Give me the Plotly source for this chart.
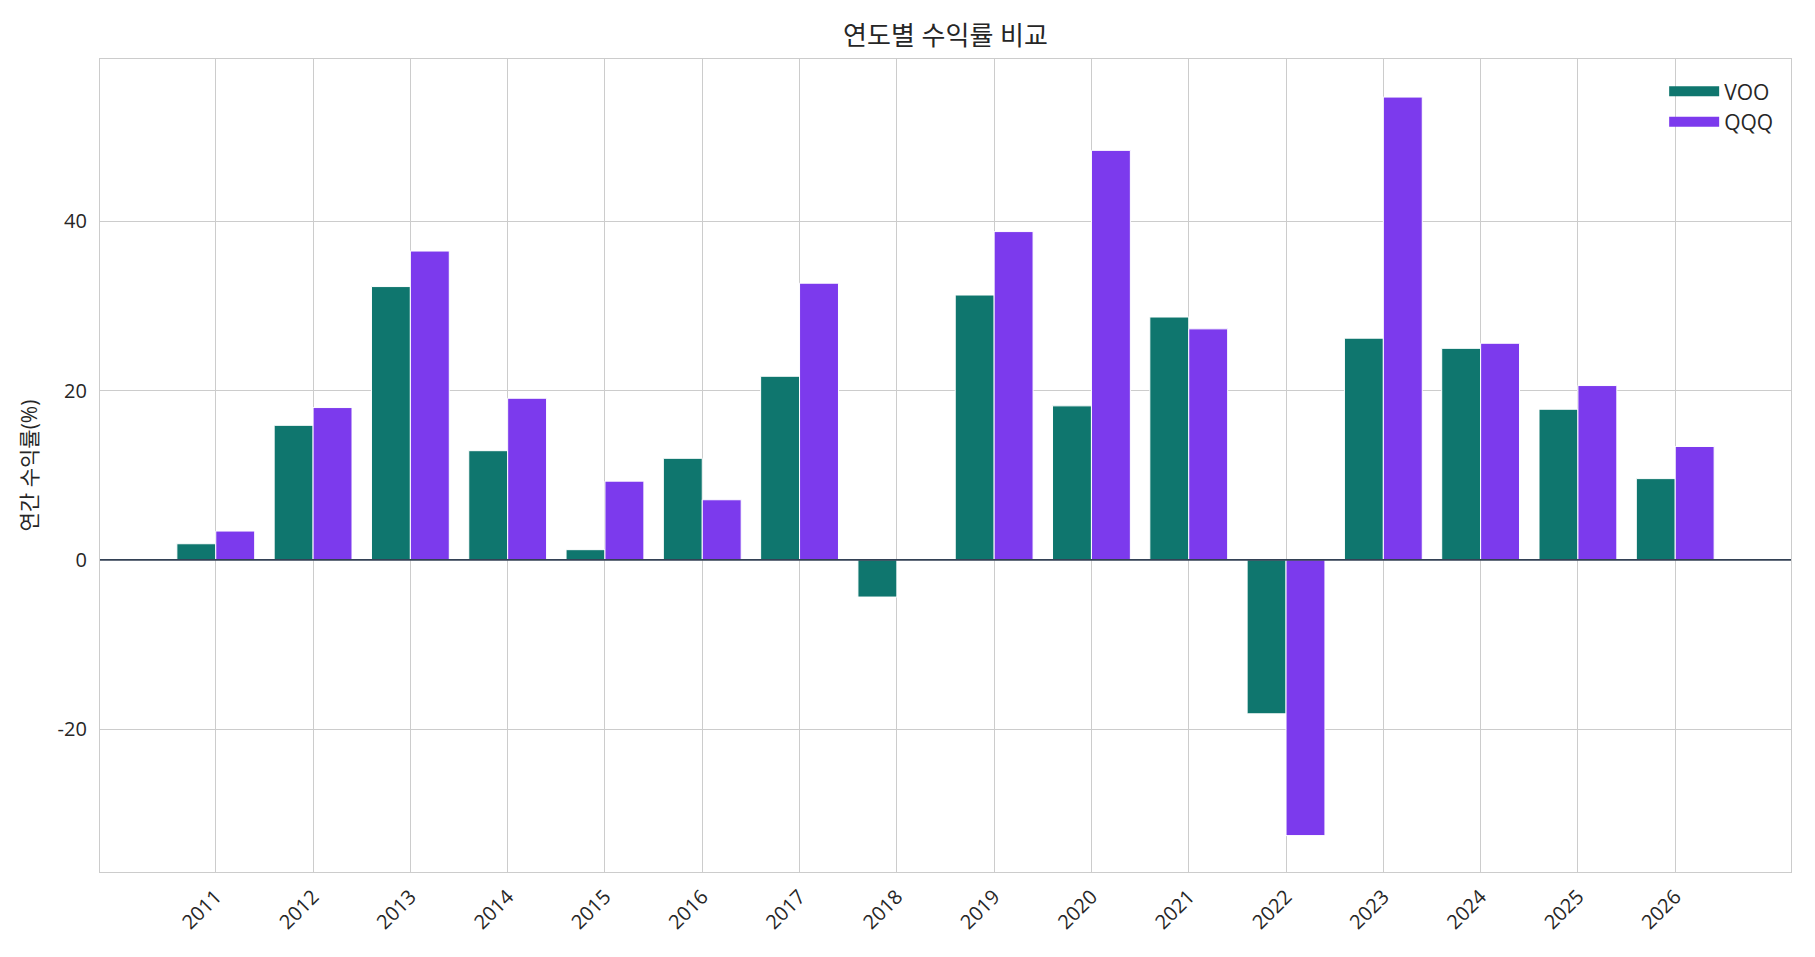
import plotly.graph_objects as go

years = ["2011", "2012", "2013", "2014", "2015", "2016", "2017", "2018",
         "2019", "2020", "2021", "2022", "2023", "2024", "2025", "2026"]
voo = [1.9, 15.9, 32.3, 12.9, 1.2, 12.0, 21.7, -4.4, 31.3, 18.2, 28.7, -18.2, 26.2, 25.0, 17.8, 9.6]
qqq = [3.4, 18.0, 36.5, 19.1, 9.3, 7.1, 32.7, 0.0, 38.8, 48.4, 27.3, -32.6, 54.7, 25.6, 20.6, 13.4]
series_names = ["VOO", "QQQ"]
series_colors = ["#0f766e", "#7c3aed"]
ytick_vals = [-20, 0, 20, 40]
ytick_text = ["-20", "0", "20", "40"]

FONT = "Open Sans, Noto Sans CJK KR, sans-serif"
TXT = "#262626"
GRID = "#cccccc"

fig = go.Figure()
for name, vals, col in zip(series_names, [voo, qqq], series_colors):
    fig.add_trace(go.Bar(x=years, y=vals, name=name, showlegend=False,
                         marker=dict(color=col, line=dict(color="white", width=1))))
# legend-only entries with wide rectangular swatches
for name, col in zip(series_names, series_colors):
    fig.add_trace(go.Scatter(x=[None], y=[None], mode="lines", name=name,
                             line=dict(color=col, width=16)))

fig.add_shape(type="line", xref="paper", x0=0, x1=1, yref="y", y0=0, y1=0,
              line=dict(color="#334155", width=1.7), layer="above")

fig.update_layout(
    width=1815, height=957,
    margin=dict(l=100, r=24, t=59, b=85),
    paper_bgcolor="white", plot_bgcolor="white",
    barmode="group", bargap=0.2, bargroupgap=0,
    font=dict(family=FONT, size=20, color=TXT),
    title=dict(text="연도별 수익률 비교", x=0.5 + (100 - 24) / 2 / 1815, xanchor="center",
               y=1 - 36 / 957, yanchor="middle", yref="container",
               font=dict(family=FONT, size=26, color=TXT)),
    legend=dict(x=0.993, y=0.985, xanchor="right", yanchor="top", bgcolor="rgba(0,0,0,0)",
                font=dict(size=21, color=TXT), tracegroupgap=0, itemwidth=50),
    xaxis=dict(type="category", range=[-1.19, 16.19], tickangle=-45,
               showgrid=True, gridcolor=GRID, gridwidth=1,
               showline=True, linecolor=GRID, linewidth=1.3, mirror=True,
               ticks="", ticklabelstandoff=4, tickfont=dict(size=20, color=TXT)),
    yaxis=dict(range=[-36.9, 59.2], tickvals=ytick_vals, ticktext=ytick_text,
               showgrid=True, gridcolor=GRID, gridwidth=1, zeroline=False,
               showline=True, linecolor=GRID, linewidth=1.3, mirror=True,
               ticks="", ticklabelstandoff=8, tickfont=dict(size=20, color=TXT),
               title=dict(text="연간 수익률(%)", standoff=14, font=dict(size=21, color=TXT))),
)

fig.write_html("out.html")
